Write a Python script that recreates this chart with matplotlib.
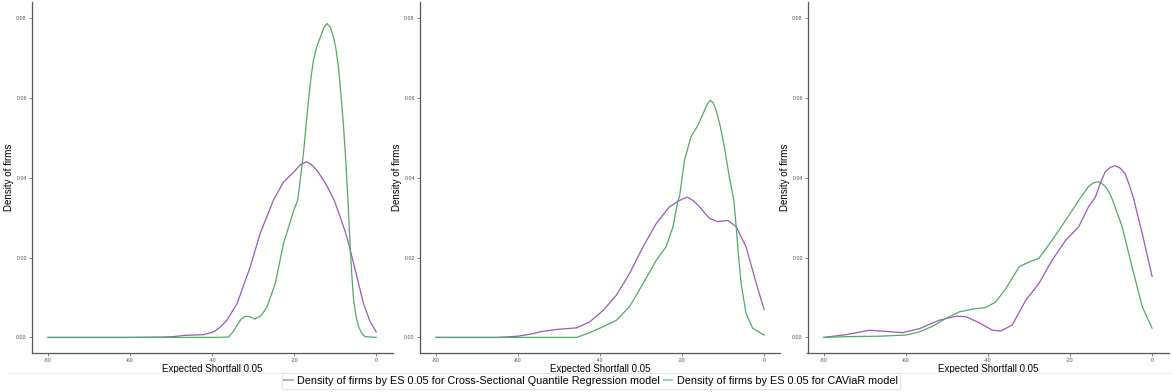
import matplotlib
matplotlib.use("Agg")
import matplotlib.pyplot as plt
from matplotlib.lines import Line2D

plt.rcParams['font.family'] = ['Liberation Sans', 'DejaVu Sans']

PURPLE = '#9b59b6'
GREEN = '#52a86a'

# Panel 1
p1_qr_x = [-80, -60, -52, -49.4, -46.9, -42.1, -39.6, -38.0, -36.4, -33.9, -30.7, -28.3, -25.0, -22.6, -20.1, -18.5, -17.0, -15.7, -14.4, -12.3, -10.3, -8.7, -7.1, -5.5, -3.1, -1.5, 0]
p1_qr_y = [0, 0, 0.0001, 0.0002, 0.0005, 0.0007, 0.0014, 0.0026, 0.0043, 0.0085, 0.0177, 0.026, 0.0345, 0.0389, 0.0414, 0.0432, 0.0440, 0.0432, 0.0418, 0.0385, 0.0345, 0.0300, 0.025, 0.0185, 0.0085, 0.004, 0.0014]
p1_cv_x = [-80, -60, -40, -36.0, -34.9, -33.9, -32.9, -31.9, -30.8, -29.6, -28.0, -26.6, -24.6, -22.6, -20.1, -19.1, -17.7, -17.1, -16.5, -15.9, -15.3, -14.5, -13.6, -12.8, -12.0, -11.2, -10.4, -9.8, -9.2, -8.6, -8.0, -7.4, -6.9, -6.3, -5.9, -5.5, -4.9, -4.3, -3.5, -2.7, 0]
p1_cv_y = [0, 0, 0, 0.0001, 0.0014, 0.0031, 0.0046, 0.0053, 0.0052, 0.0046, 0.0055, 0.0077, 0.0135, 0.0235, 0.0318, 0.0345, 0.0464, 0.0530, 0.0594, 0.0650, 0.0694, 0.0728, 0.0752, 0.0775, 0.0786, 0.0777, 0.0752, 0.0722, 0.0677, 0.0610, 0.0535, 0.0440, 0.0345, 0.0218, 0.0150, 0.0093, 0.0052, 0.0027, 0.0010, 0.0002, 0]

# Panel 2
p2_qr_x = [-80, -65, -60.1, -57.0, -54.6, -50.6, -45.7, -42.5, -39.2, -36.0, -32.8, -29.5, -26.3, -23.1, -20.6, -19.6, -18.6, -17.2, -15.7, -14.5, -13.3, -11.3, -8.8, -6.8, -4.4, -1.9, 0]
p2_qr_y = [0, 0, 0.0003, 0.0008, 0.0014, 0.002, 0.0024, 0.0039, 0.0068, 0.0106, 0.016, 0.0227, 0.0285, 0.0327, 0.0343, 0.0348, 0.0351, 0.0342, 0.0327, 0.0312, 0.0298, 0.029, 0.0293, 0.0277, 0.0227, 0.0135, 0.007]
p2_cv_x = [-80, -60, -45.7, -42.5, -39.2, -36.0, -32.8, -29.5, -26.3, -23.9, -22.2, -21.0, -20.6, -19.4, -17.8, -16.1, -14.5, -13.8, -13.1, -12.4, -11.7, -10.7, -9.7, -8.5, -7.4, -6.8, -6.2, -5.6, -4.4, -2.8, 0]
p2_cv_y = [0, 0, 0, 0.0012, 0.0027, 0.0043, 0.0077, 0.0135, 0.0193, 0.0227, 0.0277, 0.0343, 0.0353, 0.0444, 0.0503, 0.0532, 0.0569, 0.0585, 0.0594, 0.0587, 0.0569, 0.0530, 0.0478, 0.0403, 0.0345, 0.0277, 0.0200, 0.0135, 0.006, 0.0023, 0.0006]

# Panel 3
p3_qr_x = [-80, -74.6, -68.9, -64.8, -60.8, -56.7, -51.9, -47.8, -45.4, -42.2, -38.9, -36.9, -34.1, -30.8, -27.6, -24.4, -21.1, -17.9, -15.5, -13.8, -12.5, -11.4, -10.2, -9.0, -7.8, -6.6, -5.5, -4.5, -3.5, -2.4, 0]
p3_qr_y = [0, 0.0007, 0.0018, 0.0015, 0.0012, 0.0022, 0.0043, 0.0053, 0.0052, 0.0037, 0.0018, 0.0016, 0.0031, 0.0093, 0.0135, 0.0193, 0.0243, 0.0277, 0.0327, 0.0352, 0.0390, 0.0415, 0.0426, 0.0430, 0.0424, 0.0411, 0.0380, 0.0348, 0.0305, 0.026, 0.0153]
p3_cv_x = [-80, -74.6, -66.5, -60.0, -56.7, -53.5, -50.2, -47.0, -43.7, -40.5, -38.1, -35.6, -32.4, -30.0, -27.6, -24.4, -21.1, -17.9, -15.5, -14.3, -13.2, -12.3, -11.4, -10.5, -9.7, -7.3, -4.9, -2.4, 0]
p3_cv_y = [0, 0.0002, 0.0003, 0.0006, 0.0014, 0.0028, 0.0048, 0.0064, 0.0071, 0.0075, 0.0089, 0.0123, 0.0177, 0.0189, 0.0198, 0.0243, 0.0293, 0.0343, 0.0378, 0.0387, 0.0390, 0.0386, 0.0378, 0.0364, 0.0346, 0.0277, 0.0177, 0.0077, 0.0023]

panels = [(p1_qr_x, p1_qr_y, p1_cv_x, p1_cv_y),
          (p2_qr_x, p2_qr_y, p2_cv_x, p2_cv_y),
          (p3_qr_x, p3_qr_y, p3_cv_x, p3_cv_y)]

x_ticks = [-80, -60, -40, -20, 0]
y_ticks = [0.00, 0.02, 0.04, 0.06, 0.08]
y_tick_labels = ['0.00', '0.02', '0.04', '0.06', '0.08']
labels = ['Density of firms by ES 0.05 for Cross-Sectional Quantile Regression model',
          'Density of firms by ES 0.05 for CAViaR model']

W, H = 1172, 392
fig = plt.figure(figsize=(W / 100, H / 100), dpi=100)

lefts = [31.6, 419.5, 807.5]
for left, (qx, qy, cx, cy) in zip(lefts, panels):
    ax = fig.add_axes([left / W, (H - 353) / H, 361 / W, 351 / H])
    ax.plot(qx, qy, color=PURPLE, lw=0.9)
    ax.plot(cx, cy, color=GREEN, lw=0.9)
    ax.set_xlim(-84, 4)
    ax.set_ylim(-0.0039, 0.0840)
    ax.set_xticks(x_ticks)
    ax.set_xticklabels([str(t) for t in x_ticks])
    ax.set_yticks(y_ticks)
    ax.set_yticklabels(y_tick_labels)
    ax.tick_params(axis='both', labelsize=3.8, colors='#4d4d4d', length=2, width=0.5, pad=1.5)
    for s in ['top', 'right']:
        ax.spines[s].set_visible(False)
    for s in ['left', 'bottom']:
        ax.spines[s].set_color('#555555')
        ax.spines[s].set_linewidth(0.9)
    ax.set_xlabel('Expected Shortfall 0.05', fontsize=7, labelpad=0.5)
    ax.set_ylabel('Density of firms', fontsize=7, labelpad=1.5)

handles = [Line2D([], [], color=PURPLE, lw=1.5, alpha=0.55),
           Line2D([], [], color=GREEN, lw=1.5, alpha=0.55)]
leg = fig.legend(handles, labels, loc='center', bbox_to_anchor=(591 / W, 1 - 381 / H),
                 ncol=2, fontsize=7.8, frameon=True, fancybox=False, handlelength=0.8,
                 handletextpad=0.4, columnspacing=0.3, borderpad=0.25)
leg.get_frame().set_edgecolor('#dddddd')
leg.get_frame().set_linewidth(0.8)

fig.add_artist(Line2D([7 / W, 283 / W], [1 - 373 / H, 1 - 373 / H], color='#eeeeee', lw=0.8))
fig.add_artist(Line2D([898 / W, 1172 / W], [1 - 373 / H, 1 - 373 / H], color='#eeeeee', lw=0.8))

fig.savefig('out.png', dpi=100, facecolor='white')
